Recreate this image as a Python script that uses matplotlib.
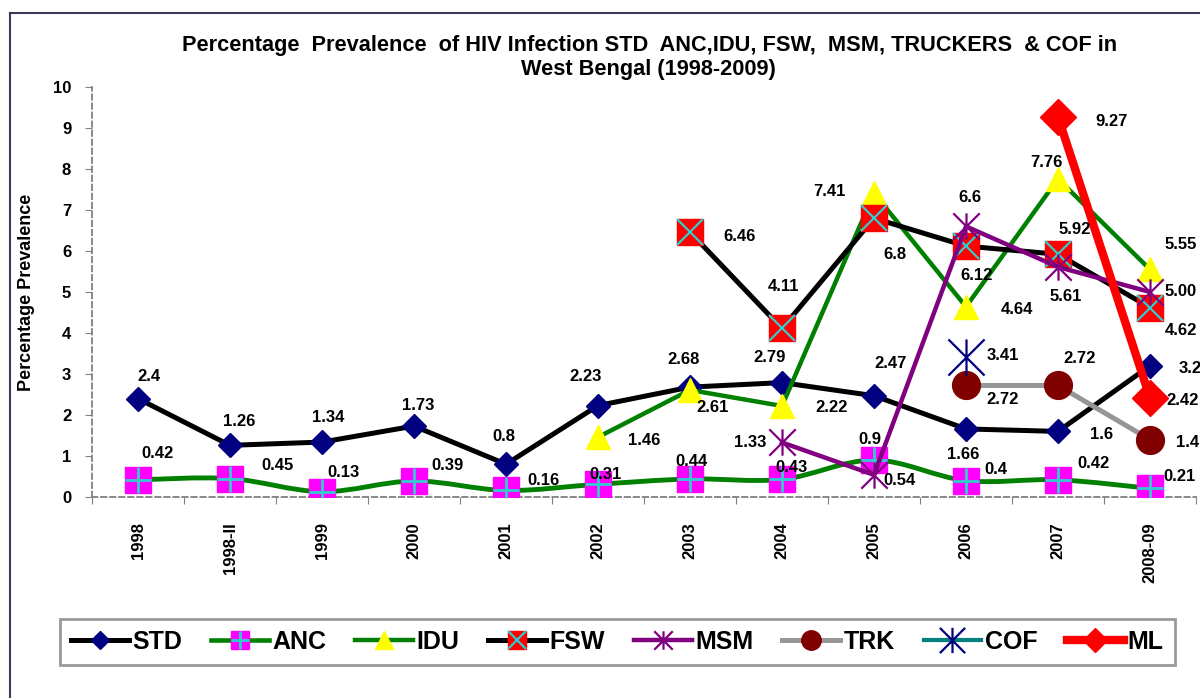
import numpy as np
import matplotlib
matplotlib.use('Agg')
import matplotlib.pyplot as plt
from matplotlib.path import Path
from matplotlib.patches import PathPatch
from matplotlib.lines import Line2D

plt.rcParams['font.family'] = ['Liberation Sans', 'DejaVu Sans']
plt.rcParams['font.weight'] = 'bold'

nan = np.nan
categories = ['1998', '1998-II', '1999', '2000', '2001', '2002', '2003',
              '2004', '2005', '2006', '2007', '2008-09']
std = [2.4, 1.26, 1.34, 1.73, 0.8, 2.23, 2.68, 2.79, 2.47, 1.66, 1.6, 3.2]
anc = [0.42, 0.45, 0.13, 0.39, 0.16, 0.31, 0.44, 0.43, 0.9, 0.4, 0.42, 0.21]
idu = [nan, nan, nan, nan, nan, 1.46, 2.61, 2.22, 7.41, 4.64, 7.76, 5.55]
fsw = [nan, nan, nan, nan, nan, nan, 6.46, 4.11, 6.8, 6.12, 5.92, 4.62]
msm = [nan, nan, nan, nan, nan, nan, nan, 1.33, 0.54, 6.6, 5.61, 5.00]
trk = [nan, nan, nan, nan, nan, nan, nan, nan, nan, 2.72, 2.72, 1.4]
cof = [nan, nan, nan, nan, nan, nan, nan, nan, nan, 3.41, nan, nan]
ml = [nan, nan, nan, nan, nan, nan, nan, nan, nan, nan, 9.27, 2.42]
label_override = {('MSM', 11): '5.00'}

title_line1 = 'Percentage  Prevalence  of HIV Infection STD  ANC,IDU, FSW,  MSM, TRUCKERS  & COF in'
title_line2 = 'West Bengal (1998-2009)'
ylabel = 'Percentage Prevalence'

# label offsets in pixels (dx right, dy down) for each plotted point
offsets = {
    'STD': [(11, -22), (9, -24), (6, -25), (4, -21), (-2, -28), (-12, -29),
            (-6, -28), (-12, -25), (17, -32), (-3, 26), (44, 3), (40, 3)],
    'ANC': [(19, -26), (47, -13), (21, -19), (33, -16), (38, -10), (8, -10),
            (1, -17), (9, -12), (-4, -21), (30, -11), (36, -16), (30, -12)],
    'IDU': [(46, 3), (23, 18), (50, 2), (-45, -2), (51, 3), (-12, -16), (31, -25)],
    'FSW': [(50, 4), (1, -42), (21, 36), (11, 29), (17, -25), (31, 23)],
    'MSM': [(-32, 0), (26, 6), (4, -29), (8, 30), (31, 0)],
    'TRK': [(37, 14), (22, -27), (38, 3)],
    'COF': [(37, -2)],
    'ML': [(54, 5), (33, 3)],
}

W, H = 1200, 698
fig = plt.figure(figsize=(W / 100, H / 100), dpi=100)
ax = fig.add_axes([92 / W, 1 - 497 / H, 1104 / W, 410 / H])
x = np.arange(len(categories))

star = Path([(0, -1), (0, 1), (-1, -1), (1, 1), (-1, 1), (1, -1)],
            [Path.MOVETO, Path.LINETO, Path.MOVETO, Path.LINETO, Path.MOVETO, Path.LINETO])

NAVY, GREEN, CYAN = '#000080', '#008000', '#33CCCC'


def smooth_path(xs, ys):
    pts = np.column_stack([xs, ys]).astype(float)
    n = len(pts)
    verts, codes = [pts[0]], [Path.MOVETO]
    for i in range(n - 1):
        p0 = pts[i - 1] if i > 0 else pts[i]
        p1, p2 = pts[i], pts[i + 1]
        p3 = pts[i + 2] if i + 2 < n else pts[i + 1]
        verts += [p1 + (p2 - p0) / 6, p2 - (p3 - p1) / 6, p2]
        codes += [Path.CURVE4] * 3
    return Path(verts, codes)


# STD
ax.plot(x, std, color='black', lw=3.6, marker='D', ms=12.5, mfc=NAVY, mec=NAVY, zorder=3)
# ANC (smoothed)
ax.add_patch(PathPatch(smooth_path(x, anc), fc='none', ec=GREEN, lw=3.5, zorder=3.1))
ax.plot(x, anc, ls='none', marker='s', ms=18.5, mfc='#FF00FF', mec='#FF00FF', zorder=3.1)
ax.plot(x, anc, ls='none', marker='+', ms=18.5, mec=CYAN, mew=2, zorder=3.1)
# IDU
ax.plot(x, idu, color=GREEN, lw=3.2, marker='^', ms=17.5, mfc='#FFFF00', mec='#FFFF00', zorder=3.2)
# FSW
ax.plot(x, fsw, color='black', lw=3.6, marker='s', ms=19, mfc='#FF0000', mec='#FF0000', zorder=3.3)
ax.plot(x, fsw, ls='none', marker='x', ms=19, mec=CYAN, mew=1.6, zorder=3.3)
# MSM
ax.plot(x, msm, color='#800080', lw=3.2, marker=star, ms=19, mfc='none', mec='#800080', mew=1.6, zorder=3.4)
# TRK
ax.plot(x, trk, color='#969696', lw=3.6, marker='o', ms=20, mfc='#800000', mec='#800000', zorder=3.5)
# COF
ax.plot(x, cof, color='#008080', lw=3, marker=star, ms=26, mfc='none', mec=NAVY, mew=1.6, zorder=3.6)
# ML
ax.plot(x, ml, color='#FF0000', lw=6, marker='D', ms=18, mfc='#FF0000', mec='#FF0000', zorder=3.7)

series = [('STD', std), ('ANC', anc), ('IDU', idu), ('FSW', fsw), ('MSM', msm),
          ('TRK', trk), ('COF', cof), ('ML', ml)]
for name, vals in series:
    k = 0
    for i, v in enumerate(vals):
        if np.isnan(v):
            continue
        dx, dy = offsets[name][k]
        k += 1
        txt = label_override.get((name, i), f'{v:g}')
        ax.annotate(txt, (x[i], v), xytext=(dx, -dy), textcoords='offset pixels',
                    ha='center', va='center', fontsize=12, fontweight='bold',
                    color='black', zorder=10, annotation_clip=False)

ax.set_xlim(-0.5, 11.5)
ax.set_ylim(0, 10)
ax.set_yticks(range(0, 11))
ax.set_xticks(np.arange(-0.5, 12, 1))
ax.set_xticklabels([])
ax.set_xticks(x, minor=True)
ax.set_xticklabels(categories, minor=True, rotation=90, fontsize=12, fontweight='bold')
ax.tick_params(axis='x', which='minor', length=0, pad=18)
ax.tick_params(axis='x', which='major', length=5, color='#808080', direction='out')
ax.tick_params(axis='y', length=5, color='#808080', direction='out', labelsize=12, pad=10)
for lab in ax.get_yticklabels():
    lab.set_fontweight('bold')
for s in ['top', 'right']:
    ax.spines[s].set_visible(False)
for s in ['left', 'bottom']:
    ax.spines[s].set_color('#808080')
    ax.spines[s].set_linestyle((0, (3, 2)))
    ax.spines[s].set_linewidth(1.3)

fig.text(650 / W, 1 - 45 / H, title_line1, ha='center', va='center', fontsize=15.7,
         fontweight='bold')
fig.text(648 / W, 1 - 70 / H, title_line2, ha='center', va='center', fontsize=15.7,
         fontweight='bold')
fig.text(27 / W, 1 - 292 / H, ylabel, rotation=90, ha='center', va='center',
         fontsize=13, fontweight='bold')

# figure frame
fig.add_artist(Line2D([10 / W, 1], [1 - 13 / H, 1 - 13 / H], color='#3a3a5c', lw=1.5))
fig.add_artist(Line2D([10 / W, 10 / W], [0, 1 - 13 / H], color='#3a3a5c', lw=1.5))

# legend
h_std = Line2D([], [], color='black', lw=3.6, marker='D', ms=12.5, mfc=NAVY, mec=NAVY)
h_anc = (Line2D([], [], color=GREEN, lw=3.3, marker='s', ms=18.5, mfc='#FF00FF', mec='#FF00FF'),
         Line2D([], [], ls='none', marker='+', ms=18.5, mec=CYAN, mew=2))
h_idu = Line2D([], [], color=GREEN, lw=3.2, marker='^', ms=17.5, mfc='#FFFF00', mec='#FFFF00')
h_fsw = (Line2D([], [], color='black', lw=3.6, marker='s', ms=19, mfc='#FF0000', mec='#FF0000'),
         Line2D([], [], ls='none', marker='x', ms=19, mec=CYAN, mew=1.6))
h_msm = Line2D([], [], color='#800080', lw=3.2, marker=star, ms=19, mfc='none', mec='#800080', mew=1.6)
h_trk = Line2D([], [], color='#969696', lw=3.6, marker='o', ms=20, mfc='#800000', mec='#800000')
h_cof = Line2D([], [], color='#008080', lw=3, marker=star, ms=26, mfc='none', mec=NAVY, mew=1.6)
h_ml = Line2D([], [], color='#FF0000', lw=6, marker='D', ms=18, mfc='#FF0000', mec='#FF0000')
handles = [h_std, h_anc, h_idu, h_fsw, h_msm, h_trk, h_cof, h_ml]
labels = [n for n, _ in series]
leg = fig.legend(handles, labels, ncol=8, loc='center',
                 bbox_to_anchor=(60 / W, 1 - 667 / H, 1115 / W, 50 / H), mode='expand',
                 prop={'size': 18, 'weight': 'bold'}, markerscale=0.7, numpoints=1,
                 handlelength=2.3, handletextpad=0.15, columnspacing=1.0,
                 borderpad=0.45, borderaxespad=0, fancybox=False, frameon=True)
leg.get_frame().set_edgecolor('#808080')
leg.get_frame().set_linewidth(2)

fig.savefig('out.png', dpi=100)
